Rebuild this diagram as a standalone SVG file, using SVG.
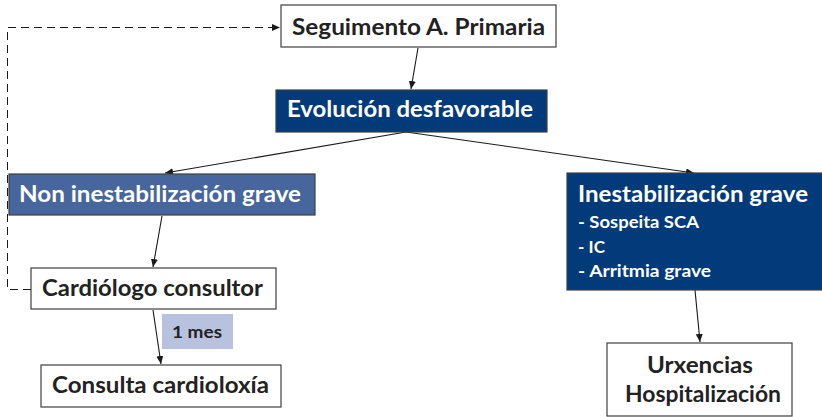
<svg xmlns="http://www.w3.org/2000/svg" width="822" height="417" viewBox="0 0 822 417">
<style>
.box{stroke:#3f3f3f;stroke-width:1.2}
.w{fill:#ffffff}
.navy{fill:#033a7a}
.mid{fill:#46669d}
.t{font-family:Lato,"Open Sans","Liberation Sans",sans-serif;font-weight:700;font-size:23px}
.s{font-family:Lato,"Open Sans","Liberation Sans",sans-serif;font-weight:700;font-size:17px}
.dk{fill:#222222}
.wt{fill:#ffffff}
.c{stroke:#1a1a1a;stroke-width:1.1;fill:none}
.d{stroke:#1a1a1a;stroke-width:1;fill:none;stroke-dasharray:8 5}
</style>
<defs>
<marker id="ah" markerUnits="userSpaceOnUse" markerWidth="9" markerHeight="8" refX="8" refY="3.5" orient="auto">
<path d="M0,0 L8,3.5 L0,7 z" fill="#1a1a1a"/>
</marker>
</defs>
<rect width="822" height="417" fill="#ffffff"/>
<g id="connectors">
<line class="c" x1="418" y1="48" x2="411" y2="89" marker-end="url(#ah)"/>
<line class="c" x1="406" y1="132" x2="165" y2="173" marker-end="url(#ah)"/>
<line class="c" x1="406" y1="132" x2="694" y2="173" marker-end="url(#ah)"/>
<line class="c" x1="162" y1="216" x2="153" y2="267" marker-end="url(#ah)"/>
<line class="c" x1="153" y1="310" x2="161" y2="364" marker-end="url(#ah)"/>
<line class="c" x1="695" y1="290" x2="700" y2="342" marker-end="url(#ah)"/>
<polyline class="d" points="31,289.5 7.5,289.5 7.5,27.5 280,27.5" marker-end="url(#ah)"/>
</g>
<g id="seguimento">
<rect class="box w" x="281" y="5" width="275" height="42"/>
<text class="t dk" x="292" y="35" textLength="253" lengthAdjust="spacingAndGlyphs">Seguimento A. Primaria</text>
</g>
<g id="evolucion">
<rect class="box navy" x="276" y="90" width="271" height="42"/>
<text class="t wt" x="287" y="117" textLength="246" lengthAdjust="spacingAndGlyphs">Evolución desfavorable</text>
</g>
<g id="non-inestabilizacion">
<rect class="box mid" x="9" y="174" width="306" height="41"/>
<text class="t wt" x="19" y="202" textLength="282" lengthAdjust="spacingAndGlyphs">Non inestabilización grave</text>
</g>
<g id="inestabilizacion">
<rect class="box navy" x="567" y="173" width="260" height="117"/>
<text class="t wt" x="578" y="202" textLength="230" lengthAdjust="spacingAndGlyphs">Inestabilización grave</text>
<text class="s wt" x="578" y="228" textLength="121" lengthAdjust="spacingAndGlyphs">- Sospeita SCA</text>
<text class="s wt" x="578" y="253" textLength="27" lengthAdjust="spacingAndGlyphs">- IC</text>
<text class="s wt" x="578" y="277" textLength="133" lengthAdjust="spacingAndGlyphs">- Arritmia grave</text>
</g>
<g id="cardiologo">
<rect class="box w" x="31" y="268" width="245" height="41"/>
<text class="t dk" x="42" y="296" textLength="221" lengthAdjust="spacingAndGlyphs">Cardiólogo consultor</text>
</g>
<g id="un-mes">
<rect x="162" y="314" width="71" height="35" fill="#b8c1dd"/>
<text class="s dk" x="172" y="338" textLength="50" lengthAdjust="spacingAndGlyphs">1 mes</text>
</g>
<g id="consulta">
<rect class="box w" x="41" y="365" width="240" height="42"/>
<text class="t dk" x="52" y="393" textLength="217" lengthAdjust="spacingAndGlyphs">Consulta cardioloxía</text>
</g>
<g id="urxencias">
<rect class="box w" x="607" y="343" width="185" height="73"/>
<text class="t dk" x="647" y="373" textLength="106" lengthAdjust="spacingAndGlyphs">Urxencias</text>
<text class="t dk" x="625" y="402" textLength="156" lengthAdjust="spacingAndGlyphs">Hospitalización</text>
</g>
</svg>
